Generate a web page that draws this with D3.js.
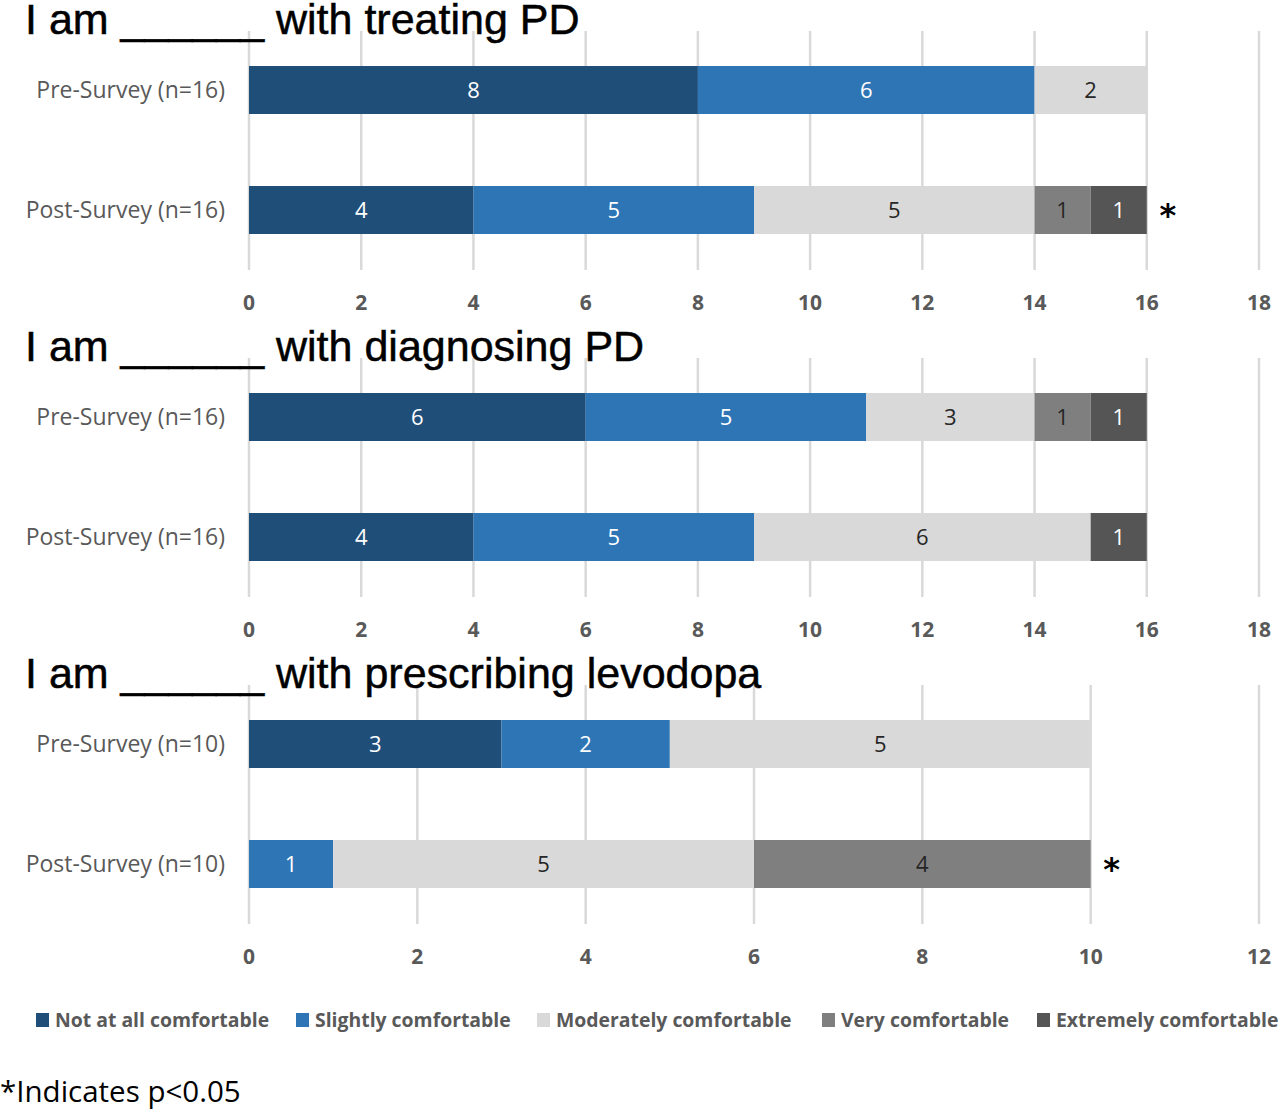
<!DOCTYPE html>
<html>
<head>
<meta charset="utf-8">
<script src="https://cdn.jsdelivr.net/npm/d3@7"></script>
<style>
  body { margin: 0; background: #fff; }
  .title { font-family: "Liberation Sans", Arial, sans-serif; font-size: 43px; fill: #000; stroke: #000; stroke-width: 0.5px; }
  .row-label { font-family: "Open Sans", sans-serif; font-size: 23px; fill: #595959; }
  .tick-label { font-family: "Open Sans", sans-serif; font-size: 21px; font-weight: bold; fill: #595959; }
  .value { font-family: "Open Sans", sans-serif; font-size: 22px; }
  .legend-text { font-family: "Open Sans", sans-serif; font-size: 19.4px; font-weight: bold; fill: #595959; }
  .note { font-family: "Open Sans", sans-serif; font-size: 29.5px; fill: #000; }
</style>
</head>
<body>
<div id="wrapper"></div>
<script>

// 1. Data

const categories = ["Not at all comfortable", "Slightly comfortable", "Moderately comfortable", "Very comfortable", "Extremely comfortable"];
const colors = ["#1f4e79", "#2e75b6", "#d9d9d9", "#7f7f7f", "#555555"];
const labelColors = ["#ffffff", "#ffffff", "#262626", "#262626", "#ffffff"];

const panelTitles = ["I am ______ with treating PD", "I am ______ with diagnosing PD", "I am ______ with prescribing levodopa"];

const rowLabels = [
	["Pre-Survey (n=16)", "Post-Survey (n=16)"],
	["Pre-Survey (n=16)", "Post-Survey (n=16)"],
	["Pre-Survey (n=10)", "Post-Survey (n=10)"]
];

const treatingPre = [8, 6, 2, 0, 0];
const treatingPost = [4, 5, 5, 1, 1];
const diagnosingPre = [6, 5, 3, 1, 1];
const diagnosingPost = [4, 5, 6, 0, 1];
const levodopaPre = [3, 2, 5, 0, 0];
const levodopaPost = [0, 1, 5, 4, 0];

const panelValues = [
	[treatingPre, treatingPost],
	[diagnosingPre, diagnosingPost],
	[levodopaPre, levodopaPost]
];

const axisMax = [18, 18, 12];
const significant = [[false, true], [false, false], [false, true]];

const noteText = "*Indicates p<0.05";

// 2. Dimensions

const dimensions = {
	width: 1280,
	height: 1111,
	panelHeight: 327,
	plotLeft: 249,
	plotRight: 1259,
	gridTop: 31,
	gridBottom: 270,
	rowTop: 30,
	rowBottom: 270,
	barHeight: 48,
	tickY: 310
};

const wrapper = d3.select("#wrapper")
	.append("svg")
	.attr("width", dimensions.width)
	.attr("height", dimensions.height);

// 3. Panels

panelTitles.forEach((title, p) => {

	const panel = wrapper.append("g")
		.attr("transform", `translate(0, ${p * dimensions.panelHeight})`);

	const xScale = d3.scaleLinear()
		.domain([0, axisMax[p]])
		.range([dimensions.plotLeft, dimensions.plotRight]);

	const yScale = d3.scaleBand()
		.domain(rowLabels[p])
		.range([dimensions.rowTop, dimensions.rowBottom])
		.paddingInner(0.6)
		.paddingOuter(0.3);

	const ticks = d3.range(0, axisMax[p] + 1, 2);

	// gridlines
	panel.selectAll(".grid")
		.data(ticks)
		.join("line")
		.attr("class", "grid")
		.attr("x1", d => xScale(d))
		.attr("x2", d => xScale(d))
		.attr("y1", dimensions.gridTop)
		.attr("y2", dimensions.gridBottom)
		.attr("stroke", "#d9d9d9")
		.attr("stroke-width", 2.5);

	panel.selectAll(".tick-label")
		.data(ticks)
		.join("text")
		.attr("class", "tick-label")
		.attr("x", d => xScale(d))
		.attr("y", dimensions.tickY)
		.attr("text-anchor", "middle")
		.text(d => d);

	// title
	panel.append("text")
		.attr("class", "title")
		.attr("x", 25)
		.attr("y", 34)
		.text(title);

	// rows
	rowLabels[p].forEach((label, r) => {
		const values = panelValues[p][r];
		let start = 0;
		const segments = values.map((v, i) => {
			const seg = { i, v, x0: start, x1: start + v };
			start += v;
			return seg;
		}).filter(d => d.v > 0);

		const y0 = yScale(label) + yScale.bandwidth() / 2 - dimensions.barHeight / 2;
		const cy = y0 + dimensions.barHeight / 2;

		const row = panel.append("g");

		row.selectAll("rect")
			.data(segments)
			.join("rect")
			.attr("x", d => xScale(d.x0))
			.attr("width", d => xScale(d.x1) - xScale(d.x0))
			.attr("y", y0)
			.attr("height", dimensions.barHeight)
			.attr("fill", d => colors[d.i]);

		row.selectAll(".value")
			.data(segments)
			.join("text")
			.attr("class", "value")
			.attr("x", d => (xScale(d.x0) + xScale(d.x1)) / 2)
			.attr("y", cy)
			.attr("dy", "0.36em")
			.attr("text-anchor", "middle")
			.attr("fill", d => labelColors[d.i])
			.text(d => d.v);

		row.append("text")
			.attr("class", "row-label")
			.attr("x", dimensions.plotLeft - 24)
			.attr("y", cy)
			.attr("dy", "0.36em")
			.attr("text-anchor", "end")
			.text(label);

		if (significant[p][r]) {
			row.append("text")
				.attr("x", xScale(start) + 21)
				.attr("y", cy + 16)
				.attr("text-anchor", "middle")
				.style("font-family", "DejaVu Sans, sans-serif")
				.style("font-size", "32px")
				.style("font-weight", "bold")
				.attr("fill", "#000")
				.text("*");
		}
	});
});

// 4. Legend

const legendX = [36, 296, 537, 822, 1037];
const legend = wrapper.append("g")
	.attr("transform", "translate(0, 1020)");

const legendItems = legend.selectAll("g")
	.data(categories)
	.join("g")
	.attr("transform", (d, i) => `translate(${legendX[i]}, 0)`);

legendItems.append("rect")
	.attr("x", 0)
	.attr("y", -7)
	.attr("width", 13)
	.attr("height", 14)
	.attr("fill", (d, i) => colors[i]);

legendItems.append("text")
	.attr("class", "legend-text")
	.attr("x", 19)
	.attr("y", 0)
	.attr("dy", "0.36em")
	.text(d => d);

// 5. Note

wrapper.append("text")
	.attr("class", "note")
	.attr("x", 0)
	.attr("y", 1102)
	.text(noteText);

</script>
</body>
</html>
